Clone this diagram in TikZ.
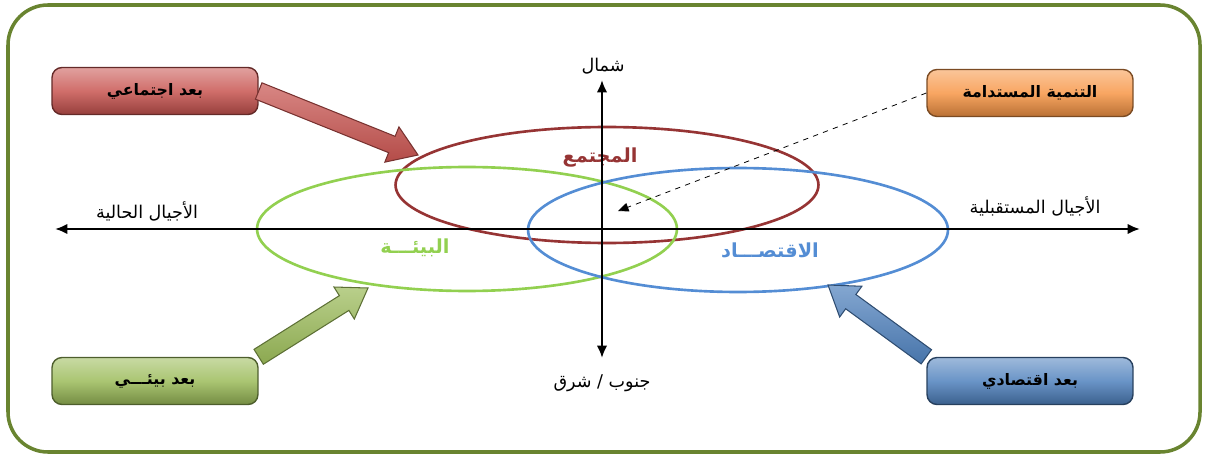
\documentclass[tikz,border=0pt]{standalone}
\usepackage{fontspec}
\usetikzlibrary{arrows.meta,calc,shapes.geometric}
\newfontfamily\arabicfont[Script=Arabic]{DejaVu Sans}
\TeXXeTstate=1
\definecolor{socred}{RGB}{200,84,80}
\definecolor{susorange}{RGB}{247,150,70}
\definecolor{envgreen}{RGB}{155,187,89}
\definecolor{ecoblue}{RGB}{79,129,189}
\definecolor{ringred}{RGB}{150,52,52}
\definecolor{ringgreen}{RGB}{146,208,80}
\definecolor{ringblue}{RGB}{84,141,212}
\definecolor{framegreen}{RGB}{105,132,48}
\tikzset{
  dimbox/.style={draw=#1!50!black, line width=.8pt, rounded corners=.2cm,
    minimum width=4.12cm, minimum height=.94cm,
    top color=#1!55!white, bottom color=#1!75!black, middle color=#1!85!white,
    font=\arabicfont\bfseries\fontsize{9}{10}\selectfont},
  ring/.style={ellipse, draw=#1, line width=1.5pt, inner sep=0pt},
  axislab/.style={font=\arabicfont\fontsize{10}{11}\selectfont},
  ringlab/.style={text=#1, font=\arabicfont\bfseries\fontsize{11}{12}\selectfont},
  fat/.style={draw=#1!60!black, line width=.6pt, top color=#1!70!white, bottom color=#1!90!black}
}
\newcommand\blockarrow[3]{%
  \path[#1] let \p1=($(#3)-(#2)$), \n1={atan2(\y1,\x1)}, \n2={veclen(\x1,\y1)} in
    ($(#2)+(\n1+90:5pt)$) -- ++(\n1:\n2-16pt) -- ++(\n1+90:5.8pt) -- (#3)
    -- ($(#3)+(\n1+180:16pt)+(\n1-90:10.8pt)$) -- ++(\n1+90:5.8pt)
    -- ($(#2)+(\n1-90:5pt)$) -- cycle;}

\begin{document}
\begin{tikzpicture}[x=.02cm, y=-.02cm, >=Latex, line width=.45pt]
    \useasboundingbox (0,0) rectangle (1209,459);
    \draw[framegreen, line width=2pt, rounded corners=.8cm] (8,5) rectangle (1200,452);
    \node[ring=ringred, minimum width=8.46cm, minimum height=2.32cm] (socring) at (607,185) {};
    \node[ring=ringgreen, minimum width=8.4cm, minimum height=2.48cm] (envring) at (467,229) {};
    \node[ring=ringblue, minimum width=8.4cm, minimum height=2.48cm] (ecoring) at (738,230) {};
    \node[ringlab=ringred] (socname) at (600,158) {\beginR المجتمع\endR};
    \node[ringlab=ringgreen] (envname) at (415,248) {\beginR البيئـــة\endR};
    \node[ringlab=ringblue] (econame) at (770,250) {\beginR الاقتصـــاد\endR};
    \coordinate (west) at (55,229);
    \coordinate (east) at (1140,229);
    \coordinate (top) at (602,80);
    \coordinate (bottom) at (602,358);
    \draw[line width=1.3pt, {Latex[length=7pt,width=6pt]}-{Latex[length=7pt,width=6pt]}] (west) -- (east);
    \draw[line width=1.3pt, {Latex[length=7pt,width=6pt]}-{Latex[length=7pt,width=6pt]}] (top) -- (bottom);
    \node[axislab] (north) at (603,66) {\beginR شمال\endR};
    \node[axislab] (south) at (602,383) {\beginR جنوب / شرق\endR};
    \node[axislab] (past) at (147,211) {\beginR الأجيال الحالية\endR};
    \node[axislab] (future) at (1035,206) {\beginR الأجيال المستقبلية\endR};
    \node[dimbox=socred] (soc) at (155,91) {\beginR بعد اجتماعي\endR};
    \node[dimbox=susorange] (sus) at (1030,93) {\beginR التنمية المستدامة\endR};
    \node[dimbox=envgreen] (env) at (155,381) {\beginR بعد بيئـــي\endR};
    \node[dimbox=ecoblue] (eco) at (1030,381) {\beginR بعد اقتصادي\endR};
    \coordinate (socto) at (418,155);
    \coordinate (envto) at (368,288);
    \coordinate (ecoto) at (828,285);
    \coordinate (hit) at (618,211);
    \blockarrow{fat=socred}{soc.east}{socto}
    \blockarrow{fat=envgreen}{env.north east}{envto}
    \blockarrow{fat=ecoblue}{eco.north west}{ecoto}
    \draw[dashed, -{Triangle[length=6pt,width=5pt]}] (sus.west) -- (hit);
\end{tikzpicture}
\end{document}
